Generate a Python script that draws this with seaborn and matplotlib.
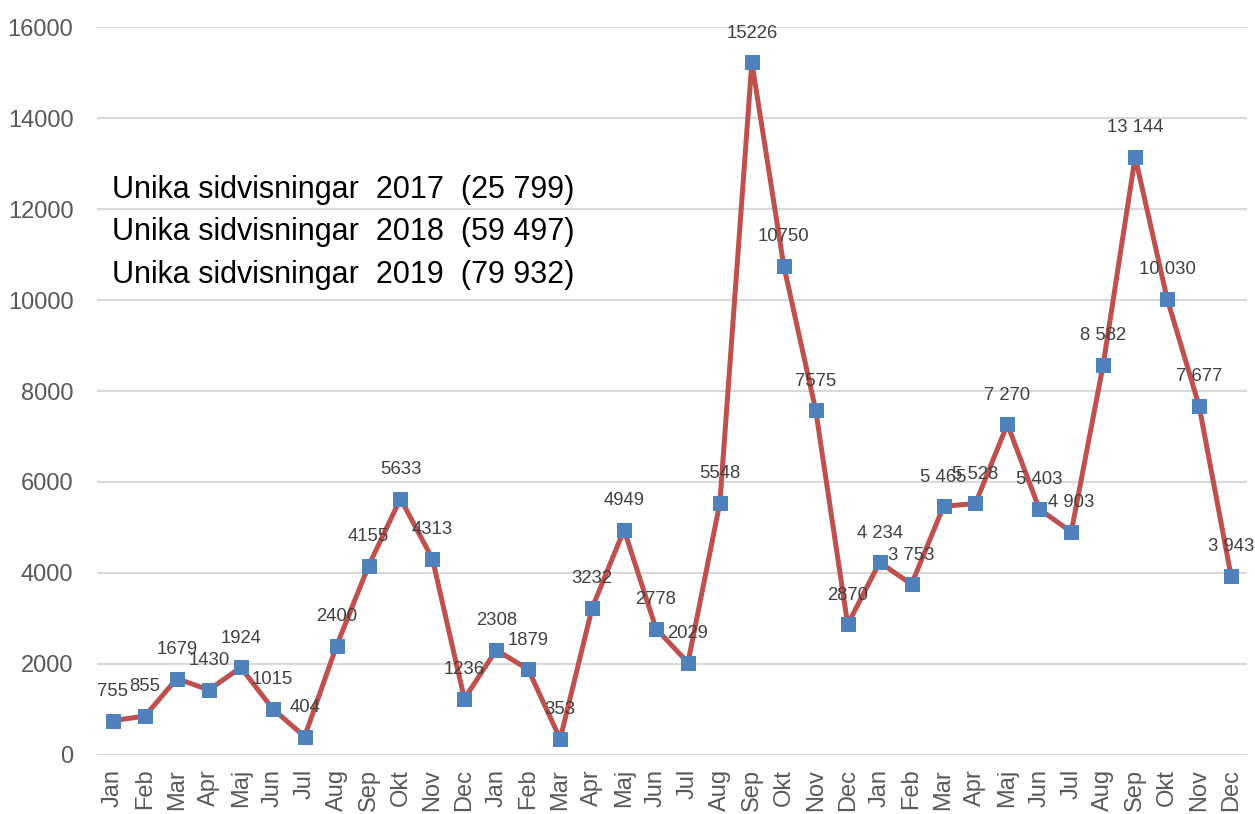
import numpy as np
import pandas as pd
import matplotlib
matplotlib.use("Agg")
import matplotlib.pyplot as plt
import seaborn as sns

# monthly unique page views 2017-2019
months = ["Jan", "Feb", "Mar", "Apr", "Maj", "Jun", "Jul", "Aug", "Sep", "Okt", "Nov", "Dec"]
views_2017 = [755, 855, 1679, 1430, 1924, 1015, 404, 2400, 4155, 5633, 4313, 1236]
views_2018 = [2308, 1879, 353, 3232, 4949, 2778, 2029, 5548, 15226, 10750, 7575, 2870]
views_2019 = [4234, 3753, 5465, 5528, 7270, 5403, 4903, 8582, 13144, 10030, 7677, 3943]
legend_lines = ["Unika sidvisningar  2017  (25 799)",
                "Unika sidvisningar  2018  (59 497)",
                "Unika sidvisningar  2019  (79 932)"]

sns.set_style("white")
plt.rcParams['font.family'] = ['Liberation Sans', 'DejaVu Sans']

values = views_2017 + views_2018 + views_2019
labels = [str(v) for v in views_2017 + views_2018] + [f"{v:,}".replace(",", " ") for v in views_2019]
df = pd.DataFrame({"pos": np.arange(len(values)), "views": values})

fig = plt.figure(figsize=(12.55, 8.14), dpi=100)
ax = fig.add_axes([0.0773, 0.0725, 0.9163, 0.8943])

sns.lineplot(data=df, x="pos", y="views", ax=ax, color="#C0504D", lw=3.6,
             marker="s", markersize=10, markerfacecolor="#4F81BD",
             markeredgecolor="#4F81BD", zorder=3)

# data labels above each point
for x, y, s in zip(df["pos"], df["views"], labels):
    ax.annotate(s, (x, y), xytext=(0, 21), textcoords="offset points",
                ha="center", va="center", fontsize=13.3, color="#404040", zorder=4)

ax.set_xlim(-0.5, len(values) - 0.5)
ax.set_ylim(0, 16000)
ax.set_yticks(np.arange(0, 16001, 2000))
ax.set_xticks(df["pos"])
ax.set_xticklabels(months * 3, rotation=90, va="top")
ax.tick_params(axis="y", length=0, pad=17, labelsize=17, labelcolor="#595959")
ax.tick_params(axis="x", length=0, pad=10, labelsize=17, labelcolor="#595959")
ax.grid(axis="y", color="#D9D9D9", lw=1.5)
ax.set_axisbelow(True)
sns.despine(ax=ax, left=True, bottom=True)
ax.set_xlabel("")
ax.set_ylabel("")

for i, t in enumerate(legend_lines):
    ax.text(0.013, 0.776 - i * 0.058, t, transform=ax.transAxes, fontsize=22,
            color="black", ha="left", va="center")

fig.savefig("out.png", dpi=100)
